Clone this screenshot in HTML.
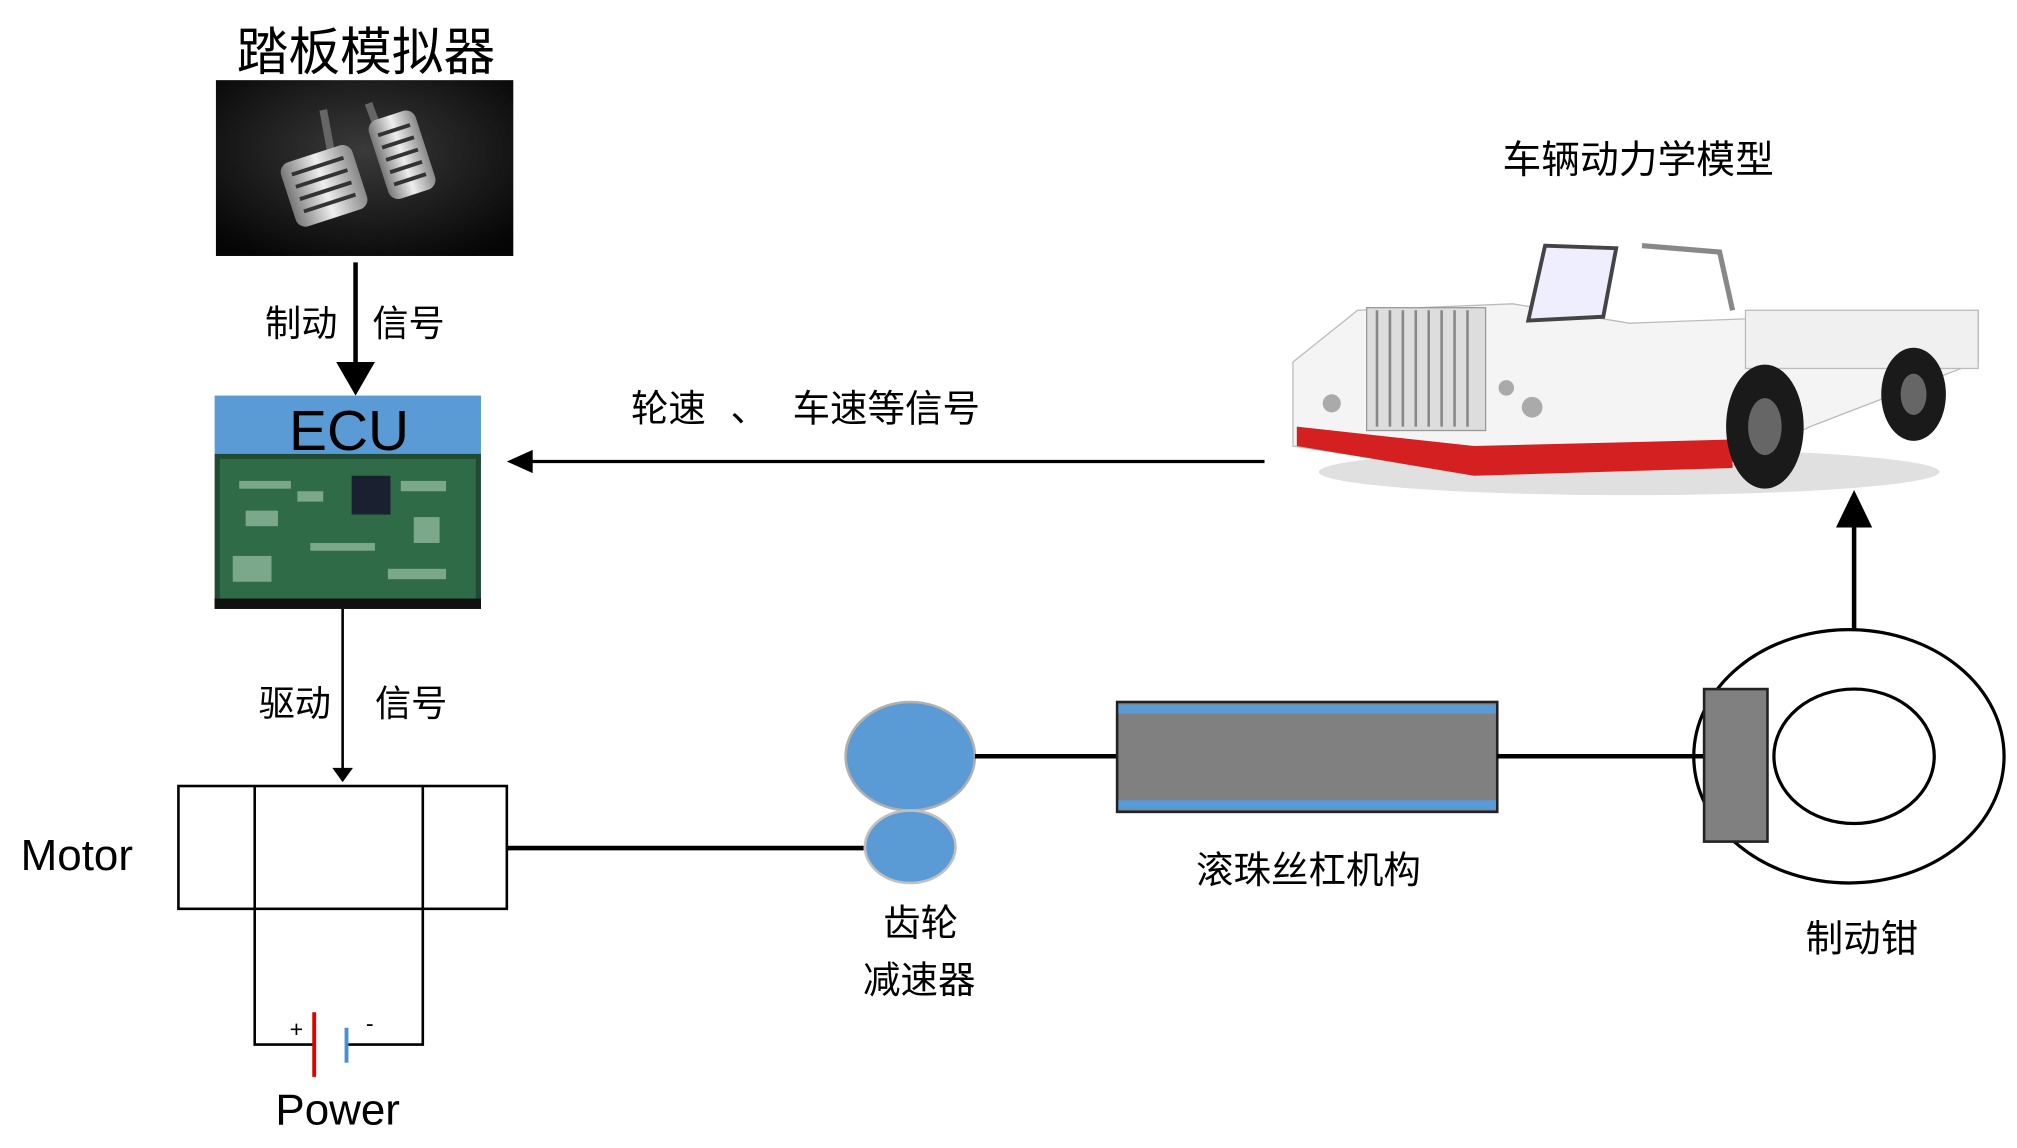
<!DOCTYPE html>
<html><head><meta charset="utf-8"><style>
html,body{margin:0;padding:0;background:#fff;}
svg{display:block;}
text{font-family:"Liberation Sans","Noto Sans CJK SC",sans-serif;fill:#000;}
</style></head><body>
<svg width="2017" height="1148" viewBox="0 0 1560 888" preserveAspectRatio="none" xmlns="http://www.w3.org/2000/svg">
<defs>
<radialGradient id="pg" cx="0.5" cy="0.4" r="0.7"><stop offset="0" stop-color="#3a3a3a"/><stop offset="1" stop-color="#050505"/></radialGradient>
<linearGradient id="pd" x1="0" y1="0" x2="1" y2="0"><stop offset="0" stop-color="#777"/><stop offset="0.5" stop-color="#eee"/><stop offset="1" stop-color="#888"/></linearGradient>
</defs>
<!-- Pedal -->
<text x="283" y="54" font-size="40" text-anchor="middle">踏板模拟器</text>
<rect x="167" y="62" width="230" height="136" fill="url(#pg)"/>
<path d="M250 85 L262 150" stroke="#666" stroke-width="6"/>
<path d="M285 80 L300 120" stroke="#666" stroke-width="6"/>
<g transform="rotate(-18 250 145)"><rect x="222" y="118" width="58" height="52" rx="8" fill="url(#pd)"/>
<g stroke="#333" stroke-width="3"><line x1="230" y1="128" x2="272" y2="128"/><line x1="230" y1="138" x2="272" y2="138"/><line x1="230" y1="148" x2="272" y2="148"/><line x1="230" y1="158" x2="272" y2="158"/></g></g>
<g transform="rotate(-18 310 120)"><rect x="292" y="88" width="38" height="64" rx="8" fill="url(#pd)"/>
<g stroke="#333" stroke-width="3"><line x1="298" y1="100" x2="324" y2="100"/><line x1="298" y1="110" x2="324" y2="110"/><line x1="298" y1="120" x2="324" y2="120"/><line x1="298" y1="130" x2="324" y2="130"/><line x1="298" y1="140" x2="324" y2="140"/></g></g>
<!-- Brake signal arrow -->
<line x1="275" y1="203" x2="275" y2="282" stroke="#000" stroke-width="3.5"/>
<polygon points="260,280 290,280 275,306" fill="#000"/>
<text x="205" y="260" font-size="28">制动</text>
<text x="288" y="260" font-size="28">信号</text>
<!-- ECU -->
<rect x="166" y="306" width="206" height="45" fill="#5b9bd5"/>
<text x="270" y="348" font-size="44" text-anchor="middle">ECU</text>
<rect x="166" y="351" width="206" height="120" fill="#1f4a33"/>
<rect x="170" y="355" width="198" height="112" fill="#2f6b47"/>
<rect x="272" y="368" width="30" height="30" fill="#1a2030"/>
<g fill="#8fb89c" opacity="0.8"><rect x="185" y="372" width="40" height="6"/><rect x="190" y="395" width="25" height="12"/><rect x="310" y="372" width="35" height="8"/><rect x="320" y="400" width="20" height="20"/><rect x="240" y="420" width="50" height="6"/><rect x="180" y="430" width="30" height="20"/><rect x="230" y="380" width="20" height="8"/><rect x="300" y="440" width="45" height="8"/></g>
<rect x="166" y="463" width="206" height="8" fill="#111"/>
<!-- Drive signal -->
<line x1="265" y1="471" x2="265" y2="595" stroke="#000" stroke-width="2"/>
<polygon points="257,594 273,594 265,605" fill="#000"/>
<text x="200" y="554" font-size="28">驱动</text>
<text x="290" y="554" font-size="28">信号</text>
<!-- Motor -->
<rect x="138" y="608" width="254" height="95" fill="none" stroke="#000" stroke-width="2"/>
<line x1="197" y1="608" x2="197" y2="703" stroke="#000" stroke-width="2"/>
<line x1="327" y1="608" x2="327" y2="703" stroke="#000" stroke-width="2"/>
<text x="16" y="673" font-size="34">Motor</text>
<!-- Power -->
<polyline points="197,703 197,808 243,808" fill="none" stroke="#000" stroke-width="2"/>
<polyline points="327,703 327,808 268,808" fill="none" stroke="#000" stroke-width="2"/>
<line x1="243" y1="783" x2="243" y2="833" stroke="#e00000" stroke-width="3"/>
<line x1="268" y1="795" x2="268" y2="822" stroke="#4a8fd8" stroke-width="3"/>
<text x="224" y="802" font-size="18">+</text>
<text x="283" y="798" font-size="18">-</text>
<text x="213" y="870" font-size="34">Power</text>
<!-- shaft -->
<line x1="392" y1="656" x2="668" y2="656" stroke="#000" stroke-width="3.5"/>
<!-- gears -->
<ellipse cx="704" cy="585" rx="50" ry="42" fill="#5b9bd5" stroke="#b0b0b0" stroke-width="2"/>
<ellipse cx="704" cy="655" rx="35" ry="28" fill="#5b9bd5" stroke="#c0c0c0" stroke-width="2"/>
<text x="712" y="724" font-size="29" text-anchor="middle">齿轮</text>
<text x="711" y="768" font-size="29" text-anchor="middle">减速器</text>
<line x1="754" y1="585" x2="864" y2="585" stroke="#000" stroke-width="3.5"/>
<!-- ball screw -->
<rect x="864" y="543" width="294" height="85" fill="#808080" stroke="#222" stroke-width="2"/>
<rect x="865" y="545" width="292" height="7" fill="#5b9bd5"/>
<rect x="865" y="619" width="292" height="7" fill="#5b9bd5"/>
<text x="1012" y="683" font-size="29" text-anchor="middle">滚珠丝杠机构</text>
<line x1="1158" y1="585" x2="1318" y2="585" stroke="#000" stroke-width="3.5"/>
<!-- caliper -->
<ellipse cx="1430" cy="585" rx="120" ry="98" fill="none" stroke="#000" stroke-width="2.5"/>
<ellipse cx="1434" cy="585" rx="62" ry="52" fill="none" stroke="#000" stroke-width="2.5"/>
<rect x="1318" y="533" width="49" height="118" fill="#808080" stroke="#222" stroke-width="2"/>
<text x="1440" y="736" font-size="29" text-anchor="middle">制动钳</text>
<line x1="1434" y1="487" x2="1434" y2="405" stroke="#000" stroke-width="3.5"/>
<polygon points="1420,408 1448,408 1434,379" fill="#000"/>
<!-- truck -->
<text x="1267" y="134" font-size="30" text-anchor="middle">车辆动力学模型</text>
<ellipse cx="1260" cy="365" rx="240" ry="18" fill="#ccc" opacity="0.6"/>
<polygon points="1000,280 1050,240 1170,235 1260,250 1530,240 1530,280 1400,330 1340,360 1100,360 1000,345" fill="#f4f4f4" stroke="#bbb"/>
<polygon points="1003,330 1140,345 1340,340 1340,362 1140,368 1003,345" fill="#d42020"/>
<rect x="1057" y="238" width="92" height="95" fill="#ddd" stroke="#999"/>
<g stroke="#888" stroke-width="2"><line x1="1065" y1="240" x2="1065" y2="330"/><line x1="1075" y1="240" x2="1075" y2="330"/><line x1="1085" y1="240" x2="1085" y2="330"/><line x1="1095" y1="240" x2="1095" y2="330"/><line x1="1105" y1="240" x2="1105" y2="330"/><line x1="1115" y1="240" x2="1115" y2="330"/><line x1="1125" y1="240" x2="1125" y2="330"/><line x1="1135" y1="240" x2="1135" y2="330"/></g>
<polygon points="1195,190 1250,192 1240,245 1182,248" fill="#eef" stroke="#444" stroke-width="3"/>
<polyline points="1270,190 1330,195 1340,240" fill="none" stroke="#888" stroke-width="4"/>
<rect x="1350" y="240" width="180" height="45" fill="#f0f0f0" stroke="#bbb"/>
<ellipse cx="1365" cy="330" rx="30" ry="48" fill="#1a1a1a"/>
<ellipse cx="1365" cy="330" rx="13" ry="22" fill="#666"/>
<ellipse cx="1480" cy="305" rx="25" ry="36" fill="#1a1a1a"/>
<ellipse cx="1480" cy="305" rx="10" ry="16" fill="#666"/>
<circle cx="1030" cy="312" r="7" fill="#aaa"/><circle cx="1185" cy="315" r="8" fill="#aaa"/><circle cx="1165" cy="300" r="6" fill="#aaa"/>
<!-- speed signal -->
<line x1="978" y1="357" x2="410" y2="357" stroke="#000" stroke-width="2.5"/>
<polygon points="412,348 412,366 392,357" fill="#000"/>
<text x="488" y="326" font-size="29">轮速</text>
<text x="565" y="326" font-size="29">、</text>
<text x="613" y="326" font-size="29">车速等信号</text>
</svg>
</body></html>
